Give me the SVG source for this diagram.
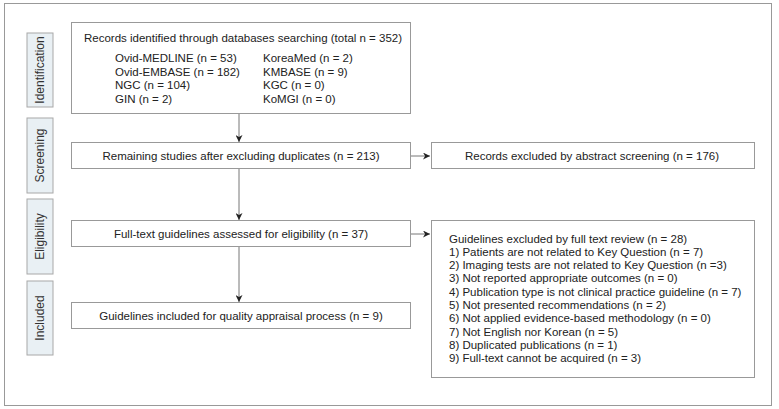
<svg xmlns="http://www.w3.org/2000/svg" width="779" height="409" viewBox="0 0 779 409">
<defs>
<style>
.frame{fill:#fff;stroke:#999;stroke-width:1}
.side{fill:#e9f0f4;stroke:#a8a8a8;stroke-width:1}
.box{fill:#fff;stroke:#999;stroke-width:1}
.t{font-family:"Liberation Sans",Arial,sans-serif;font-size:11.5px;fill:#222}
.st{font-family:"Liberation Sans",Arial,sans-serif;font-size:12px;fill:#333}
.c{text-anchor:middle}
.ln{stroke:#777;stroke-width:1;fill:none}
</style>
<marker id="ah" viewBox="0 0 10 10" refX="10" refY="5" markerWidth="8" markerHeight="7" markerUnits="userSpaceOnUse" orient="auto">
<path d="M0,0 L10,5 L0,10 L3,5 Z" fill="#222"/>
</marker>
</defs>
<rect class="frame" x="4.5" y="3.5" width="767" height="402"/>
<g id="phase-identification">
<rect class="side" x="27" y="33" width="26" height="74"/>
<text class="st c" transform="translate(44,70) rotate(-90)">Identification</text>
</g>
<g id="phase-screening">
<rect class="side" x="27" y="118" width="26" height="75"/>
<text class="st c" transform="translate(44,155.5) rotate(-90)">Screening</text>
</g>
<g id="phase-eligibility">
<rect class="side" x="27" y="199" width="26" height="75"/>
<text class="st c" transform="translate(44,236.5) rotate(-90)">Eligibility</text>
</g>
<g id="phase-included">
<rect class="side" x="27" y="281" width="26" height="74"/>
<text class="st c" transform="translate(44,318) rotate(-90)">Included</text>
</g>
<g id="connectors">
<line class="ln" x1="239" y1="114" x2="239" y2="142" marker-end="url(#ah)"/>
<line class="ln" x1="239" y1="169" x2="239" y2="220" marker-end="url(#ah)"/>
<line class="ln" x1="239" y1="247" x2="239" y2="302" marker-end="url(#ah)"/>
<line class="ln" x1="411" y1="156" x2="430" y2="156" marker-end="url(#ah)"/>
<line class="ln" x1="411" y1="234" x2="430" y2="234" marker-end="url(#ah)"/>
</g>
<g id="records-identified">
<rect class="box" x="71.5" y="22.5" width="339" height="91"/>
<text class="t" x="84" y="42">Records identified through databases searching (total n = 352)</text>
<text class="t" x="115" y="62">Ovid-MEDLINE (n = 53)</text>
<text class="t" x="115" y="75.5">Ovid-EMBASE (n = 182)</text>
<text class="t" x="115" y="89">NGC (n = 104)</text>
<text class="t" x="115" y="102.5">GIN (n = 2)</text>
<text class="t" x="263" y="62">KoreaMed (n = 2)</text>
<text class="t" x="263" y="75.5">KMBASE (n = 9)</text>
<text class="t" x="263" y="89">KGC (n = 0)</text>
<text class="t" x="263" y="102.5">KoMGI (n = 0)</text>
</g>
<g id="remaining-studies">
<rect class="box" x="71.5" y="142.5" width="339" height="26"/>
<text class="t c" x="241" y="160">Remaining studies after excluding duplicates (n = 213)</text>
</g>
<g id="full-text-assessed">
<rect class="box" x="71.5" y="220.5" width="339" height="26"/>
<text class="t c" x="241" y="238">Full-text guidelines assessed for eligibility (n = 37)</text>
</g>
<g id="guidelines-included">
<rect class="box" x="71.5" y="302.5" width="339" height="26"/>
<text class="t c" x="241" y="320">Guidelines included for quality appraisal process (n = 9)</text>
</g>
<g id="excluded-abstract">
<rect class="box" x="431.5" y="142.5" width="323" height="26"/>
<text class="t c" x="592" y="160">Records excluded by abstract screening (n = 176)</text>
</g>
<g id="excluded-fulltext">
<rect class="box" x="431.5" y="220.5" width="323" height="157"/>
<text class="t" x="449" y="242.5">Guidelines excluded by full text review (n = 28)</text>
<text class="t" x="449" y="255.8">1) Patients are not related to Key Question (n = 7)</text>
<text class="t" x="449" y="269.1">2) Imaging tests are not related to Key Question (n =3)</text>
<text class="t" x="449" y="282.4">3) Not reported appropriate outcomes (n = 0)</text>
<text class="t" x="449" y="295.7">4) Publication type is not clinical practice guideline (n = 7)</text>
<text class="t" x="449" y="309">5) Not presented recommendations (n = 2)</text>
<text class="t" x="449" y="322.3">6) Not applied evidence-based methodology (n = 0)</text>
<text class="t" x="449" y="335.6">7) Not English nor Korean (n = 5)</text>
<text class="t" x="449" y="348.9">8) Duplicated publications (n = 1)</text>
<text class="t" x="449" y="362.2">9) Full-text cannot be acquired (n = 3)</text>
</g>
</svg>
